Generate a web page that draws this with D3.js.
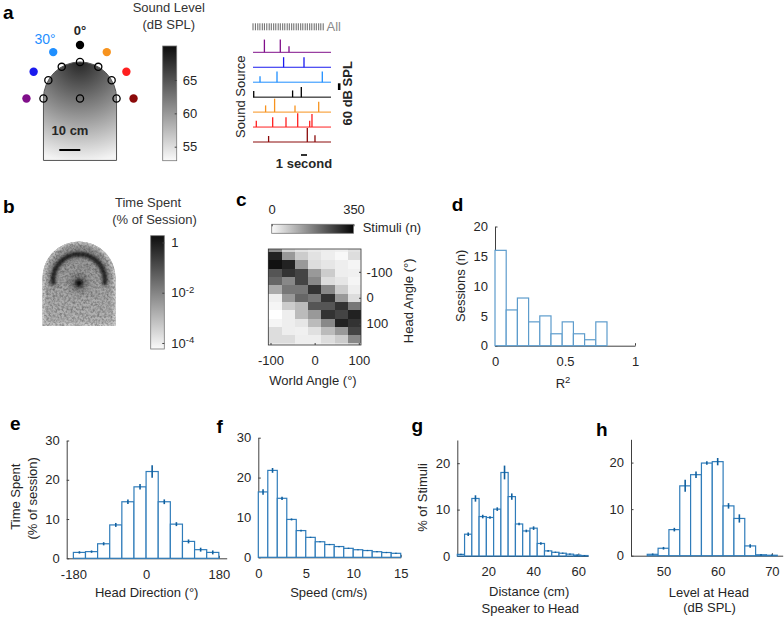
<!DOCTYPE html>
<html><head><meta charset="utf-8">
<script src="https://cdn.jsdelivr.net/npm/d3@7"></script>
<style>
html,body{margin:0;padding:0;background:#fff}
</style></head><body>
<svg id="fig" width="784" height="619" xmlns="http://www.w3.org/2000/svg"></svg>
<script>
// ---------------- DATA ----------------
// Panel a: speaker ring and example stimulus train
const speakerAngles = [-90, -60, -30, 0, 30, 60, 90];
const speakerColors = ["#800f8a", "#1a1aee", "#1f8fff", "#000000", "#f7931e", "#ff1f1f", "#8b0a0a"];
const micAngles = [-90, -60, -30, 0, 30, 60, 90];
const arenaRadiusCm = 17.4, arenaDepthCm = 29.5, speakerRadiusCm = 25.5;
const levelTicks = [55, 60, 65];
const levelRange = [52.9, 70.1];
// per-speaker stimulus [time (s), level (dB SPL)]
const stimTrains = [
  [[1.9, 69], [4.55, 69], [6.0, 59]],
  [[5.1, 65], [8.5, 65]],
  [[1.17, 59], [4.0, 66], [11.55, 66]],
  [[0.12, 59], [6.6, 60], [8.05, 65]],
  [[2.1, 60], [3.6, 70], [7.0, 60], [10.95, 65.5]],
  [[0.55, 59.5], [3.28, 64.5], [5.5, 64.5], [7.45, 70.5], [9.45, 59.5], [9.83, 69.5]],
  [[2.6, 59], [9.05, 71], [10.33, 60]]
];
const allStimTimes = [0.0, 0.4, 0.8, 1.15, 1.55, 1.9, 2.3, 2.7, 3.05, 3.45, 3.8, 4.2, 4.55, 4.95, 5.3, 5.7,
  6.05, 6.45, 6.8, 7.2, 7.55, 7.95, 8.3, 8.7, 9.05, 9.45, 9.8, 10.2, 10.55, 10.95, 11.3, 11.7];
const trainDuration = 13;

// Panel b: colorbar ticks
const occTicks = [1e-4, 1e-2, 1];

// Panel c: stimuli by world angle (columns) x head angle (rows)
const worldAngles = [-90, -60, -30, 0, 30, 60, 90];
const headAngleBins = [-192, -160, -128, -96, -64, -32, 0, 32, 64, 96, 128, 160, 192];
const stimCounts = [
  [160, 60, 40, 30, 25, 20, 40],
  [304, 140, 70, 40, 23, 9, 46],
  [326, 304, 140, 46, 35, 23, 14],
  [233, 280, 257, 140, 70, 23, 21],
  [210, 163, 257, 163, 46, 35, 14],
  [117, 187, 187, 280, 163, 70, 23],
  [23, 140, 210, 187, 280, 140, 46],
  [14, 70, 93, 233, 233, 280, 187],
  [0, 23, 93, 140, 280, 257, 304],
  [14, 23, 35, 93, 163, 304, 280],
  [46, 23, 21, 42, 93, 140, 257],
  [46, 46, 23, 23, 46, 70, 163],
  [30, 30, 20, 20, 30, 40, 60]
];
const headTicks = [-100, 0, 100];
const worldTicks = [-100, 0, 100];

// Panel d: R^2 histogram
const r2Edges = [0, 0.08, 0.16, 0.24, 0.32, 0.40, 0.48, 0.56, 0.64, 0.72, 0.80];
const sessionCounts = [16, 6, 8, 4, 5, 2, 4, 2, 1, 4];

// Panel e: head direction
const headDirEdges = [-180, -150, -120, -90, -60, -30, 0, 30, 60, 90, 120, 150, 180];
const headDirTime = [1.5, 1.7, 3.7, 8.5, 14.4, 18.2, 22.1, 14.4, 8.7, 4.3, 2.2, 1.5];
const headDirErr = [0.2, 0.2, 0.3, 0.4, 0.5, 0.6, 1.5, 0.5, 0.4, 0.4, 0.4, 0.4];

// Panel f: speed
const speedEdges = [0, 1, 2, 3, 4, 5, 6, 7, 8, 9, 10, 11, 12, 13, 14, 15];
const speedTime = [16.4, 21.8, 14.8, 9.5, 6.7, 5.0, 3.9, 3.2, 2.7, 2.25, 1.9, 1.7, 1.4, 1.2, 1.0];
const speedErr = [0.6, 0.5, 0.3, 0.15, 0.1, 0.05, 0.05, 0.05, 0.05, 0.05, 0.05, 0.05, 0.05, 0.05, 0.05];

// Panel g: distance speaker to head
const distEdges = [6.2, 9.43, 12.66, 15.89, 19.12, 22.35, 25.58, 28.81, 32.04, 35.27, 38.5, 41.73,
  44.96, 48.19, 51.42, 54.65, 57.88, 61.11, 64.34];
const distPct = [0.35, 4.7, 12.4, 8.5, 8.3, 10.1, 18.0, 12.8, 6.9, 5.4, 6.0, 2.7, 1.1, 0.8, 0.6, 0.4, 0.2, 0.1];
const distErr = [0.05, 0.3, 0.6, 0.3, 0.2, 0.3, 1.4, 0.6, 0.2, 0.2, 0.3, 0.2, 0.1, 0.05, 0.05, 0.05, 0.05, 0.02];

// Panel h: level at head
const levelEdges = [47, 49, 51, 53, 55, 57, 59, 61, 63, 65, 67, 69, 71];
const levelPct = [0.3, 1.6, 5.6, 15.0, 17.4, 19.9, 20.2, 10.7, 8.0, 2.1, 0.2, 0.1];
const levelErr = [0.1, 0.2, 0.3, 1.2, 0.6, 0.3, 0.7, 0.5, 0.8, 0.3, 0.1, 0.05];

// ---------------- DRAWING ----------------
const FONT = '"Liberation Sans", Arial, Helvetica, sans-serif';
const TXT = "#262626";
const AX = "#404040";
const svg = d3.select("#fig");
const defs = svg.append("defs");

function txt(x, y, s, o = {}) {
  const t = svg.append("text").attr("font-family", FONT).attr("font-size", o.size || 13)
    .attr("font-weight", o.weight || "normal").attr("fill", o.fill || TXT)
    .attr("text-anchor", o.anchor || "middle");
  if (o.rotate) t.attr("transform", `translate(${x},${y}) rotate(${o.rotate})`);
  else t.attr("x", x).attr("y", y);
  if (o.baseline) t.attr("dominant-baseline", o.baseline);
  t.text(s);
  return t;
}
function styleAxis(g) {
  g.attr("font-size", 13).attr("font-family", FONT);
  g.selectAll("path.domain").attr("stroke", AX);
  g.selectAll(".tick line").attr("stroke", AX);
  g.selectAll(".tick text").attr("fill", TXT);
}
function panelLabel(x, y, s) { txt(x, y, s, { size: 19, weight: "bold", anchor: "start", fill: "#000" }); }

// ===== Panel a (arena) =====
panelLabel(3, 18.5, "a");
const cm = d3.scaleLinear([0, 10], [0, 21]);
const acx = 80, acy = 98.5;
const aR = cm(arenaRadiusCm), aD = cm(arenaDepthCm), sR = cm(speakerRadiusCm);
const arenaPath = (cx, cy, r, depth) =>
  `M${cx - r},${cy + depth}L${cx - r},${cy}A${r},${r} 0 0 1 ${cx + r},${cy}L${cx + r},${cy + depth}Z`;

const rg = defs.append("radialGradient").attr("id", "sndGrad").attr("gradientUnits", "userSpaceOnUse")
  .attr("cx", acx).attr("cy", acy - aR).attr("r", 100);
rg.append("stop").attr("offset", 0).attr("stop-color", "#262626");
rg.append("stop").attr("offset", 0.5).attr("stop-color", "#8c8c8c");
rg.append("stop").attr("offset", 1).attr("stop-color", "#f4f4f4");
svg.append("path").attr("d", arenaPath(acx, acy, aR, aD)).attr("fill", "url(#sndGrad)")
  .attr("stroke", "#555").attr("stroke-width", 1);

const polar = (ang, r) => [acx + r * Math.sin(ang * Math.PI / 180), acy - r * Math.cos(ang * Math.PI / 180)];
svg.selectAll("circle.mic").data(micAngles.map(a => polar(a, aR)).concat([[acx, acy]])).join("circle")
  .attr("cx", d => d[0]).attr("cy", d => d[1]).attr("r", 3.6)
  .attr("fill", "none").attr("stroke", "#000").attr("stroke-width", 1.3);
svg.selectAll("circle.spk").data(speakerAngles).join("circle")
  .attr("cx", d => polar(d, sR)[0]).attr("cy", d => polar(d, sR)[1]).attr("r", 4.2)
  .attr("fill", (d, i) => speakerColors[i]);
txt(80, 34.5, "0°", { weight: "bold" });
txt(45, 44, "30°", { fill: speakerColors[2], size: 14 });
txt(70, 135, "10 cm", { weight: "bold" });
svg.append("line").attr("x1", 59.3).attr("x2", 59.3 + cm(10)).attr("y1", 150).attr("y2", 150)
  .attr("stroke", "#000").attr("stroke-width", 2);

// colorbar a
const lvl = d3.scaleLinear(levelRange, [160.7, 46]);
const lg = defs.append("linearGradient").attr("id", "cbA").attr("x1", 0).attr("y1", 1).attr("x2", 0).attr("y2", 0);
lg.append("stop").attr("offset", 0).attr("stop-color", "#fafafa");
lg.append("stop").attr("offset", 1).attr("stop-color", "#0d0d0d");
svg.append("rect").attr("x", 162.7).attr("y", lvl(levelRange[1])).attr("width", 14)
  .attr("height", lvl(levelRange[0]) - lvl(levelRange[1])).attr("fill", "url(#cbA)")
  .attr("stroke", "#777").attr("stroke-width", 0.8);
const axA = svg.append("g").attr("transform", "translate(176.7,0)")
  .call(d3.axisRight(lvl).tickValues(levelTicks).tickSize(-2).tickSizeOuter(0).tickPadding(6).tickFormat(d => d));
styleAxis(axA); axA.select("path.domain").remove();
txt(168.8, 11.7, "Sound Level", { fill: "#333" });
txt(168.8, 29.3, "(dB SPL)", { fill: "#333" });

// ===== Panel a (stimulus trains) =====
const tX = d3.scaleLinear([0, trainDuration], [253, 331]);
const rowY = d3.scalePoint(speakerAngles, [52.3, 142]);
const amp = d3.scaleLinear([50, 70], [0, 13.4]);
svg.selectAll("line.all").data(allStimTimes).join("line")
  .attr("x1", d => tX(d)).attr("x2", d => tX(d)).attr("y1", 23.3).attr("y2", 30.3)
  .attr("stroke", "#666").attr("stroke-width", 1);
txt(326.5, 30.7, "All", { anchor: "start", fill: "#8a8a8a" });
speakerAngles.forEach((a, i) => {
  const y0 = rowY(a);
  svg.append("line").attr("x1", tX(0)).attr("x2", tX(trainDuration)).attr("y1", y0).attr("y2", y0)
    .attr("stroke", speakerColors[i]).attr("stroke-width", 1);
  svg.selectAll(null).data(stimTrains[i]).join("line")
    .attr("x1", d => tX(d[0])).attr("x2", d => tX(d[0]))
    .attr("y1", y0).attr("y2", d => y0 - amp(d[1]))
    .attr("stroke", speakerColors[i]).attr("stroke-width", 1.3);
});
txt(240, 96.7, "Sound Source", { rotate: -90, baseline: "central" });
svg.append("line").attr("x1", 339.2).attr("x2", 339.2).attr("y1", 90).attr("y2", 90 - amp(60))
  .attr("stroke", "#000").attr("stroke-width", 2.6);
txt(347.8, 93.3, "60 dB SPL", { rotate: -90, baseline: "central", weight: "bold" });
svg.append("line").attr("x1", tX(8)).attr("x2", tX(9)).attr("y1", 155).attr("y2", 155)
  .attr("stroke", "#000").attr("stroke-width", 1.6);
txt(304, 168.3, "1 second", { weight: "bold" });

// ===== Panel b =====
panelLabel(3, 213.3, "b");
const bcx = 79, bcy = 278, bDepth = 48;
defs.append("clipPath").attr("id", "clipB").append("path").attr("d", arenaPath(bcx, bcy, aR, bDepth));
const fB = defs.append("filter").attr("id", "blurB").attr("x", "-50%").attr("y", "-50%").attr("width", "200%").attr("height", "200%");
fB.append("feGaussianBlur").attr("stdDeviation", 1.6);
const fB2 = defs.append("filter").attr("id", "blurB2").attr("x", "-50%").attr("y", "-50%").attr("width", "200%").attr("height", "200%");
fB2.append("feGaussianBlur").attr("stdDeviation", 3);
const nz = defs.append("filter").attr("id", "noiseB").attr("x", 0).attr("y", 0).attr("width", "100%").attr("height", "100%");
nz.append("feTurbulence").attr("type", "fractalNoise").attr("baseFrequency", 0.45).attr("numOctaves", 2).attr("seed", 7).attr("result", "t");
nz.append("feColorMatrix").attr("in", "t").attr("type", "matrix")
  .attr("values", "0 0 0 0 0  0 0 0 0 0  0 0 0 0 0  0.7 0 0 0 -0.25");
const gB = svg.append("g").attr("clip-path", "url(#clipB)");
const bg = defs.append("linearGradient").attr("id", "bodyB").attr("x1", 0).attr("y1", 0).attr("x2", 0).attr("y2", 1);
bg.append("stop").attr("offset", 0).attr("stop-color", "#909090");
bg.append("stop").attr("offset", 0.5).attr("stop-color", "#a4a4a4");
bg.append("stop").attr("offset", 1).attr("stop-color", "#b8b8b8");
gB.append("rect").attr("x", bcx - aR - 2).attr("y", bcy - aR - 2).attr("width", 2 * aR + 4).attr("height", aR + bDepth + 4)
  .attr("fill", "url(#bodyB)");
gB.append("path").attr("d", arenaPath(bcx, bcy, aR, bDepth)).attr("fill", "none")
  .attr("stroke", "#d0d0d0").attr("stroke-width", 5).attr("filter", "url(#blurB)");
const ringR = 26;
const ringArc = d3.arc()({ innerRadius: ringR - 2.5, outerRadius: ringR + 2.5, startAngle: -Math.PI * 0.56, endAngle: Math.PI * 0.56 });
gB.append("path").attr("d", ringArc).attr("transform", `translate(${bcx},${bcy + 2})`)
  .attr("fill", "#222").attr("filter", "url(#blurB)");
gB.append("circle").attr("cx", bcx).attr("cy", bcy + 5).attr("r", 9).attr("fill", "#5a5a5a").attr("opacity", 0.7).attr("filter", "url(#blurB2)");
gB.append("circle").attr("cx", bcx).attr("cy", bcy + 5).attr("r", 3.6).attr("fill", "#0a0a0a").attr("filter", "url(#blurB)");
gB.append("rect").attr("x", bcx - aR - 2).attr("y", bcy - aR - 2).attr("width", 2 * aR + 4).attr("height", aR + bDepth + 4)
  .attr("filter", "url(#noiseB)");
// colorbar b
const occ = d3.scaleLog([Math.pow(10, -4.24), Math.pow(10, 0.27)], [349, 235.7]);
const lgB = defs.append("linearGradient").attr("id", "cbB").attr("x1", 0).attr("y1", 1).attr("x2", 0).attr("y2", 0);
lgB.append("stop").attr("offset", 0).attr("stop-color", "#fafafa");
lgB.append("stop").attr("offset", 1).attr("stop-color", "#0d0d0d");
svg.append("rect").attr("x", 150.7).attr("y", 235.7).attr("width", 13.6).attr("height", 349 - 235.7)
  .attr("fill", "url(#cbB)").attr("stroke", "#777").attr("stroke-width", 0.8);
const axB = svg.append("g").attr("transform", "translate(164.3,0)")
  .call(d3.axisRight(occ).tickValues(occTicks).tickSize(-2).tickSizeOuter(0).tickPadding(7));
styleAxis(axB); axB.select("path.domain").remove();
axB.selectAll(".tick text").each(function (d) {
  const e = Math.round(Math.log10(d)); const s = d3.select(this); s.text(null);
  if (e === 0) s.text("1");
  else { s.append("tspan").text("10"); s.append("tspan").attr("dy", "-0.5em").attr("font-size", 9.5).text(e); }
});
txt(148, 206.7, "Time Spent", { fill: "#333" });
txt(154.5, 223.5, "(% of Session)", { fill: "#333" });

// ===== Panel c =====
panelLabel(236, 206, "c");
const xW = d3.scaleLinear([-105, 105], [268.3, 361]);
const yH = d3.scaleLinear([-188, 182], [249, 345]);
const grey = d3.scaleLinear([0, 350], ["#ffffff", "#000000"]).clamp(true);
const cells = [];
headAngleBins.forEach((h, ri) => worldAngles.forEach((w, ci) => cells.push({ w, h, v: stimCounts[ri][ci] })));
const hd = yH.domain();
svg.selectAll("rect.cell").data(cells).join("rect")
  .attr("x", d => xW(d.w - 15)).attr("width", d => xW(d.w + 15) - xW(d.w - 15))
  .attr("y", d => yH(Math.max(d.h - 16, hd[0])))
  .attr("height", d => yH(Math.min(d.h + 16, hd[1])) - yH(Math.max(d.h - 16, hd[0])))
  .attr("fill", d => grey(d.v)).attr("shape-rendering", "crispEdges");
svg.append("rect").attr("x", 268.3).attr("y", 249).attr("width", 361 - 268.3).attr("height", 345 - 249)
  .attr("fill", "none").attr("stroke", "#333").attr("stroke-width", 0.8);
const axCr = svg.append("g").attr("transform", "translate(361,0)")
  .call(d3.axisRight(yH).tickValues(headTicks).tickSize(-2).tickSizeOuter(0).tickPadding(5.5).tickFormat(d => d));
styleAxis(axCr); axCr.select("path.domain").remove();
const axCb = svg.append("g").attr("transform", "translate(0,345)")
  .call(d3.axisBottom(xW).tickValues(worldTicks).tickSize(-2).tickSizeOuter(0).tickPadding(10.5).tickFormat(d => d));
styleAxis(axCb); axCb.select("path.domain").remove();
txt(313, 385, "World Angle (°)");
txt(408.5, 300.8, "Head Angle (°)", { rotate: -90, baseline: "central" });
// colorbar c
const cC = d3.scaleLinear([0, 350], [271.7, 353.5]);
const lgC = defs.append("linearGradient").attr("id", "cbC").attr("x1", 0).attr("y1", 0).attr("x2", 1).attr("y2", 0);
lgC.append("stop").attr("offset", 0).attr("stop-color", "#fafafa");
lgC.append("stop").attr("offset", 1).attr("stop-color", "#050505");
svg.append("rect").attr("x", cC(0)).attr("y", 224.3).attr("width", cC(350) - cC(0)).attr("height", 9)
  .attr("fill", "url(#cbC)").attr("stroke", "#777").attr("stroke-width", 0.8);
const axCc = svg.append("g").attr("transform", "translate(0,224.3)")
  .call(d3.axisTop(cC).tickValues([0, 350]).tickSize(-2).tickSizeOuter(0).tickPadding(10).tickFormat(d => d));
styleAxis(axCc); axCc.select("path.domain").remove();
txt(362.7, 232, "Stimuli (n)", { anchor: "start" });

// ===== Histograms =====
function hist(o) {
  const g = svg.append("g");
  const x = d3.scaleLinear(o.xDomain, [o.left, o.right]);
  const y = d3.scaleLinear(o.yDomain, [o.bottom, o.top]);
  const ya = g.append("g").attr("transform", `translate(${o.left},0)`)
    .call(d3.axisLeft(y).tickValues(o.yTicks).tickSize(-2.5).tickSizeOuter(0).tickPadding(7).tickFormat(d => d));
  styleAxis(ya);
  const xa = g.append("g").attr("transform", `translate(0,${o.bottom})`)
    .call(d3.axisBottom(x).tickValues(o.xTicks).tickSize(-2.5).tickSizeOuter(0).tickPadding(o.xPad || 11).tickFormat(d => d));
  styleAxis(xa);
  const bins = o.values.map((v, i) => ({ x0: o.edges[i], x1: o.edges[i + 1], v, e: o.err ? o.err[i] : 0 }));
  g.selectAll("rect.bar").data(bins).join("rect")
    .attr("x", d => x(d.x0)).attr("width", d => x(d.x1) - x(d.x0))
    .attr("y", d => y(d.v)).attr("height", d => y(0) - y(d.v))
    .attr("fill", "#fff").attr("stroke", o.stroke).attr("stroke-width", 1.2);
  if (o.err) {
    g.selectAll("line.err").data(bins).join("line")
      .attr("x1", d => x((d.x0 + d.x1) / 2)).attr("x2", d => x((d.x0 + d.x1) / 2))
      .attr("y1", d => y(d.v - d.e) + 0.4).attr("y2", d => y(d.v + d.e) - 0.4)
      .attr("stroke", "#11609f").attr("stroke-width", 1.6);
  }
  return { x, y };
}

// Panel d
panelLabel(451.7, 210.7, "d");
hist({ left: 495, right: 635, top: 226.5, bottom: 345.7, xDomain: [0, 1], yDomain: [0, 20],
  xTicks: [0, 0.5, 1], yTicks: [0, 5, 10, 15, 20], edges: r2Edges, values: sessionCounts, stroke: "#5d9ccc" });
txt(460.5, 285.8, "Sessions (n)", { rotate: -90, baseline: "central" });
const r2 = txt(563, 388, "R");
r2.append("tspan").attr("dy", "-0.5em").attr("font-size", 9.5).text("2");

// Panel e
panelLabel(10, 430, "e");
hist({ left: 66.7, right: 226.7, top: 440.5, bottom: 558.3, xDomain: [-196.5, 199.5], yDomain: [0, 30],
  xTicks: [-180, 0, 180], yTicks: [0, 10, 20, 30], edges: headDirEdges, values: headDirTime, err: headDirErr, stroke: "#2f7cba" });
txt(15, 496.7, "Time Spent", { rotate: -90, baseline: "central" });
txt(32, 498.3, "(% of session)", { rotate: -90, baseline: "central" });
txt(146.7, 597.3, "Head Direction (°)");

// Panel f
panelLabel(216.5, 433, "f");
hist({ left: 258.3, right: 400.7, top: 437.7, bottom: 557.3, xDomain: [0, 15], yDomain: [0, 30],
  xTicks: [0, 5, 10, 15], yTicks: [0, 10, 20, 30], edges: speedEdges, values: speedTime, err: speedErr, stroke: "#2f7cba" });
txt(328.8, 596.7, "Speed (cm/s)");

// Panel g
panelLabel(411.5, 432, "g");
hist({ left: 457.3, right: 588, top: 440, bottom: 556, xDomain: [6.2, 64.3], yDomain: [0, 25],
  xTicks: [20, 40, 60], yTicks: [0, 10, 20], edges: distEdges, values: distPct, err: distErr, stroke: "#2f7cba" });
txt(422, 497.5, "% of Stimuli", { rotate: -90, baseline: "central" });
txt(529.2, 596, "Distance (cm)");
txt(530.3, 612.5, "Speaker to Head");

// Panel h
panelLabel(596, 436, "h");
hist({ left: 631, right: 782.7, top: 439.3, bottom: 555.7, xDomain: [44, 72], yDomain: [0, 25],
  xTicks: [50, 60, 70], yTicks: [0, 10, 20], edges: levelEdges, values: levelPct, err: levelErr, stroke: "#2f7cba" });
txt(708.8, 596.5, "Level at Head");
txt(709.5, 611.5, "(dB SPL)");
</script>
</body></html>
